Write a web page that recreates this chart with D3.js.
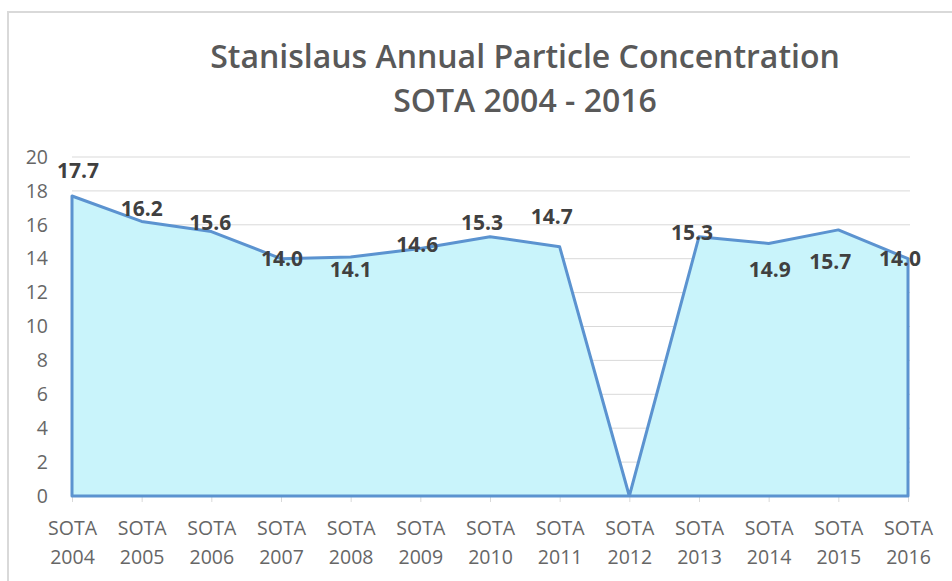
<!DOCTYPE html>
<html>
<head>
<meta charset="utf-8">
<script src="https://cdn.jsdelivr.net/npm/d3@7"></script>
<style>
  body { margin: 0; background: #fff; }
  svg { display: block; font-family: "Open Sans", sans-serif; }
</style>
</head>
<body>
<div id="chart"></div>
<script>
// chart data
var years = ["2004","2005","2006","2007","2008","2009","2010","2011","2012","2013","2014","2015","2016"];
var values = [17.7, 16.2, 15.6, 14.0, 14.1, 14.6, 15.3, 14.7, 0, 15.3, 14.9, 15.7, 14.0];
var showLabel = [1,1,1,1,1,1,1,1,0,1,1,1,1];
var yTicks = [0,2,4,6,8,10,12,14,16,18,20];
var titleLines = ["Stanislaus Annual Particle Concentration", "SOTA 2004 - 2016"];

// label nudges (px) so they sit where the original put them
var labelDx = [6, 0, -1, 1, 0, -3, -8, -8, 0, -7, 1, -8, -8];
var labelDy = [-26, -13, -9, 0, 12, -4, -14, -30, 0, -4, 26, 32, 0];

var W = 952, H = 581;
var svg = d3.select("#chart").append("svg")
  .attr("width", W).attr("height", H);

// outer frame
svg.append("rect")
  .attr("x", 8).attr("y", 12)
  .attr("width", W + 20).attr("height", H + 20)
  .attr("fill", "#fff")
  .attr("stroke", "#d9d9d9").attr("stroke-width", 2);

var x = d3.scalePoint().domain(years).range([72, 908]);
var y = d3.scaleLinear().domain([0, 20]).range([496, 157]);

// title
svg.selectAll(".title")
  .data(titleLines)
  .join("text")
  .attr("class", "title")
  .attr("x", 525)
  .attr("y", (d, i) => 68 + i * 44)
  .attr("text-anchor", "middle")
  .attr("font-size", 32)
  .attr("font-weight", 600)
  .attr("fill", "#595959")
  .text(d => d);

// gridlines
svg.selectAll(".grid")
  .data(yTicks.filter(d => d > 0))
  .join("line")
  .attr("class", "grid")
  .attr("x1", 72).attr("x2", 910)
  .attr("y1", d => y(d)).attr("y2", d => y(d))
  .attr("stroke", "#d9d9d9").attr("stroke-width", 1);

// y axis labels
var yAxis = svg.append("g")
  .attr("transform", "translate(72,0)")
  .call(d3.axisLeft(y).tickValues(yTicks).tickSize(0).tickPadding(24));
yAxis.select(".domain").remove();
yAxis.selectAll("text")
  .attr("font-family", "Open Sans")
  .attr("font-size", 19.5)
  .attr("fill", "#666");

// x axis
var xAxis = svg.append("g")
  .attr("transform", "translate(0," + y(0) + ")")
  .call(d3.axisBottom(x).tickSize(6).tickPadding(10).tickFormat(""));
xAxis.select(".domain").attr("stroke", "#d9d9d9");
xAxis.selectAll(".tick line").attr("stroke", "#d9d9d9");
xAxis.selectAll(".tick").append("text")
  .attr("text-anchor", "middle")
  .attr("font-family", "Open Sans")
  .attr("font-size", 19.5)
  .attr("fill", "#666")
  .selectAll("tspan")
  .data(d => ["SOTA", d])
  .join("tspan")
  .attr("x", 0)
  .attr("y", (d, i) => 39 + i * 29)
  .text(d => d);

// area
var pts = years.map((d, i) => ({ year: d, value: values[i], show: showLabel[i], i: i }));
var area = d3.area()
  .x(d => x(d.year))
  .y0(y(0))
  .y1(d => y(d.value));

svg.append("path")
  .datum(pts)
  .attr("d", area)
  .attr("fill", "#c9f4fb")
  .attr("stroke", "#5b93d0")
  .attr("stroke-width", 3)
  .attr("stroke-linejoin", "round");

// data labels
svg.selectAll(".lbl")
  .data(pts.filter(d => d.show))
  .join("text")
  .attr("class", "lbl")
  .attr("x", d => x(d.year) + labelDx[d.i])
  .attr("y", d => y(d.value) + labelDy[d.i])
  .attr("dy", "0.36em")
  .attr("text-anchor", "middle")
  .attr("font-size", 21)
  .attr("font-weight", 700)
  .attr("fill", "#404040")
  .text(d => d.value.toFixed(1));
</script>
</body>
</html>
